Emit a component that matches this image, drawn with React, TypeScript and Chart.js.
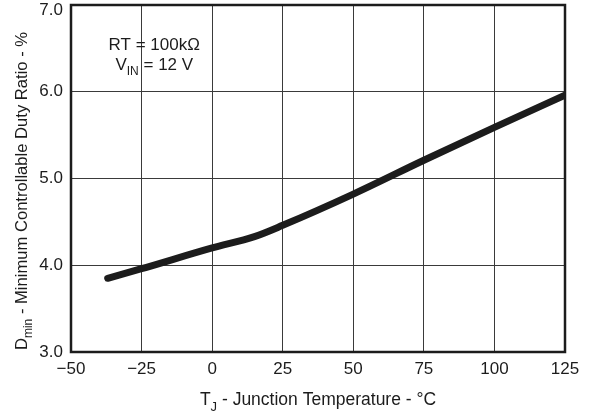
import { useEffect, useRef } from "react";
import { Chart, registerables } from "chart.js";

Chart.register(...registerables);

// Junction temperature (°C) and minimum controllable duty ratio (%)
const temperatureC = [-37, -25, 0, 15, 25, 50, 75, 100, 125];
const dutyRatioPct = [3.85, 3.96, 4.2, 4.33, 4.46, 4.82, 5.21, 5.59, 5.96];

// Axis ranges and tick steps
const xRange = [-50, 125];
const xStep = 25;
const yRange = [3, 7];
const yStep = 1;

// Condition note shown inside the plot
const noteLines = [
  [{ text: "RT = 100kΩ" }],
  [{ text: "V" }, { text: "IN", sub: true }, { text: " = 12 V" }],
];
const xTitle = [{ text: "T" }, { text: "J", sub: true }, { text: " - Junction Temperature - °C" }];
const yTitle = [
  { text: "D" },
  { text: "min", sub: true },
  { text: " - Minimum Controllable Duty Ratio - %" },
];

const FONT = "'Liberation Sans', Arial, Helvetica, sans-serif";
const INK = "#1c1c1c";
const SIZE = 17;

type Part = { text: string; sub?: boolean };

function drawRich(ctx: CanvasRenderingContext2D, parts: Part[], cx: number, cy: number, size: number) {
  const subSize = Math.round(size * 0.72);
  const widths = parts.map((p) => {
    ctx.font = `${p.sub ? subSize : size}px ${FONT}`;
    return ctx.measureText(p.text).width;
  });
  const total = widths.reduce((a, b) => a + b, 0);
  let x = cx - total / 2;
  ctx.textAlign = "left";
  ctx.textBaseline = "middle";
  ctx.fillStyle = INK;
  parts.forEach((p, i) => {
    ctx.font = `${p.sub ? subSize : size}px ${FONT}`;
    ctx.fillText(p.text, x, p.sub ? cy + size * 0.4 : cy);
    x += widths[i];
  });
}

const decorPlugin = {
  id: "decor",
  afterDatasetsDraw(chart: any) {
    const { ctx, chartArea: a, scales } = chart;
    ctx.save();
    ctx.strokeStyle = INK;
    ctx.lineWidth = 2.5;
    ctx.strokeRect(a.left, a.top, a.right - a.left, a.bottom - a.top);

    // y tick labels, kept inside the canvas at the top edge
    ctx.font = `${SIZE}px ${FONT}`;
    ctx.fillStyle = INK;
    ctx.textAlign = "right";
    ctx.textBaseline = "middle";
    scales.y.ticks.forEach((t: any) => {
      const py = Math.max(scales.y.getPixelForValue(t.value), 10);
      ctx.fillText(Number(t.value).toFixed(1), a.left - 8, py);
    });

    const nx = scales.x.getPixelForValue(-20.5);
    drawRich(ctx, noteLines[0], nx, scales.y.getPixelForValue(6.53), SIZE);
    drawRich(ctx, noteLines[1], nx, scales.y.getPixelForValue(6.31), SIZE);

    drawRich(ctx, xTitle, (a.left + a.right) / 2, 400, 17.5);

    ctx.translate(22, 191);
    ctx.rotate(-Math.PI / 2);
    drawRich(ctx, yTitle, 0, 0, 16.6);
    ctx.restore();
  },
};

export default function App() {
  const ref = useRef<HTMLCanvasElement | null>(null);

  useEffect(() => {
    if (!ref.current) return;
    const chart = new Chart(ref.current, {
      type: "line",
      data: {
        datasets: [
          {
            data: temperatureC.map((t, i) => ({ x: t, y: dutyRatioPct[i] })),
            borderColor: INK,
            borderWidth: 7,
            borderCapStyle: "round",
            borderJoinStyle: "round",
            pointRadius: 0,
            cubicInterpolationMode: "monotone",
            fill: false,
          },
        ],
      },
      options: {
        animation: false,
        responsive: false,
        events: [],
        layout: { padding: { left: 31, right: 25, top: 5, bottom: 32 } },
        plugins: { legend: { display: false }, tooltip: { enabled: false } },
        scales: {
          x: {
            type: "linear",
            min: xRange[0],
            max: xRange[1],
            afterFit: (s: any) => {
              s.height = 30;
              s.paddingLeft = 0;
              s.paddingRight = 0;
            },
            ticks: {
              stepSize: xStep,
              padding: 7,
              color: INK,
              font: { family: FONT, size: SIZE },
              callback: (v: any) => (v < 0 ? "\u2212" + Math.abs(v) : String(v)),
            },
            grid: { color: "#3a3a3a", lineWidth: 1, drawTicks: false },
            border: { display: false },
          },
          y: {
            type: "linear",
            min: yRange[0],
            max: yRange[1],
            afterFit: (s: any) => {
              s.width = 40;
              s.paddingTop = 0;
              s.paddingBottom = 0;
            },
            ticks: {
              stepSize: yStep,
              display: false,
            },
            grid: { color: "#3a3a3a", lineWidth: 1, drawTicks: false },
            border: { display: false },
          },
        },
      },
      plugins: [decorPlugin],
    } as any);
    return () => chart.destroy();
  }, []);

  return (
    <div style={{ position: "fixed", left: 0, top: 0, width: 590, height: 414, background: "#fff" }}>
      <canvas ref={ref} width={590} height={414} style={{ width: 590, height: 414, display: "block" }} />
    </div>
  );
}
